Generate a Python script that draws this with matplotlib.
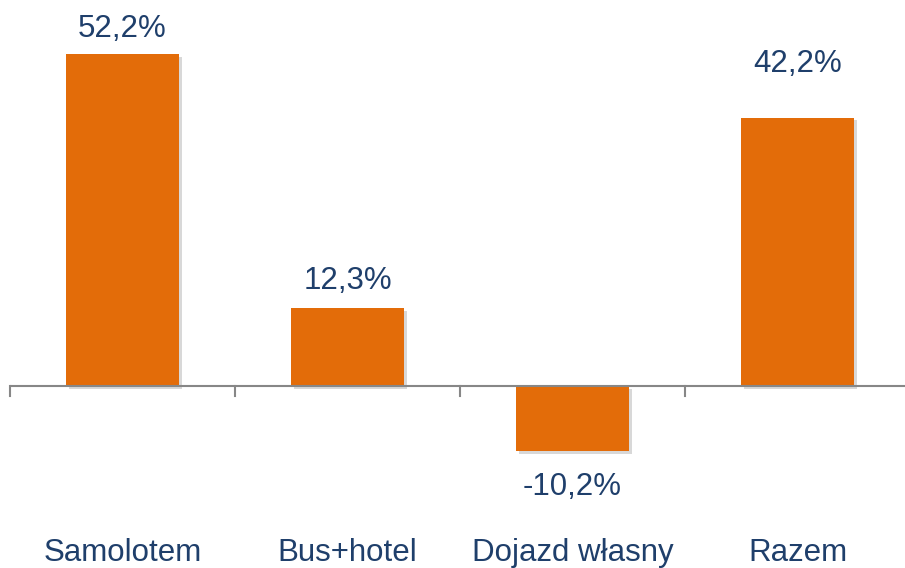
import numpy as np
import matplotlib.pyplot as plt
import matplotlib.patheffects as pe

categories = ["Samolotem", "Bus+hotel", "Dojazd własny", "Razem"]
values = [52.2, 12.3, -10.2, 42.2]
value_labels = ["52,2%", "12,3%", "-10,2%", "42,2%"]

bar_color = "#E36C09"
text_color = "#1F3F6B"
axis_color = "#878787"

plt.rcParams['font.family'] = ['Liberation Sans', 'DejaVu Sans']

fig = plt.figure(figsize=(9.05, 5.68), dpi=100)
# axes spans the whole height; baseline sits at 386 px from top
ax = fig.add_axes([10 / 905, 0, 900 / 905, 1])
px_per_unit = 6.36
ax.set_ylim(-(568 - 386) / px_per_unit, 386 / px_per_unit)
ax.set_xlim(-0.5, 3.5)

x = np.arange(len(categories))
bars = ax.bar(x, values, width=0.5, color=bar_color, zorder=2)
for b in bars:
    b.set_path_effects([pe.SimplePatchShadow(offset=(2, -2), shadow_rgbFace='#808080', alpha=0.3),
                        pe.Normal()])

# baseline with downward ticks at category boundaries
ax.axhline(0, color=axis_color, lw=1.5, zorder=3)
for xb in np.arange(-0.5, 4.0, 1.0):
    ax.plot([xb, xb], [0, -10 / px_per_unit], color=axis_color, lw=1.5, zorder=3,
            clip_on=False)

# value labels (offsets in points)
offsets = [7.5, 8.5, -15, 27.5]
for xi, v, lab, off in zip(x, values, value_labels, offsets):
    va = 'bottom' if v >= 0 else 'top'
    ax.annotate(lab, (xi, v), xytext=(0, off), textcoords='offset points',
                ha='center', va=va, fontsize=22.5, color=text_color)

# category labels
for xi, c in zip(x, categories):
    ax.text(xi, -(553 - 386) / px_per_unit, c, ha='center', va='center',
            fontsize=22.5, color=text_color)

ax.axis('off')
fig.savefig("out.png", dpi=100)
